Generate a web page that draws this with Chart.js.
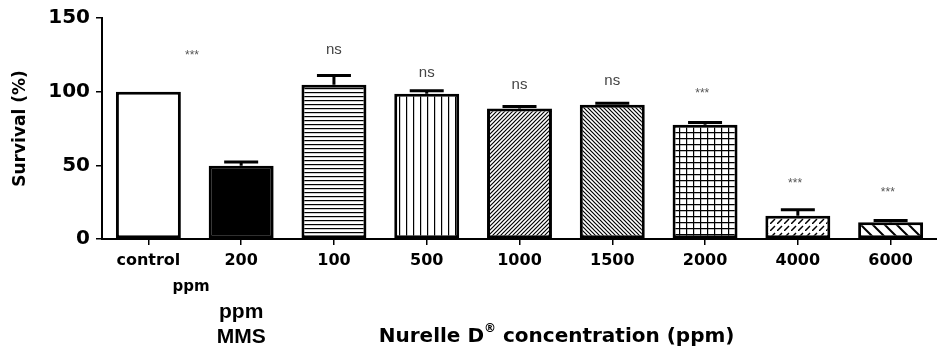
<!DOCTYPE html>
<html>
<head>
<meta charset="utf-8">
<script src="https://cdn.jsdelivr.net/npm/chart.js@4/dist/chart.umd.min.js"></script>
<style>
  html, body { margin: 0; padding: 0; background: #fff; }
  #wrap { width: 937px; height: 350px; }
</style>
</head>
<body>
<div id="wrap"><canvas id="myChart"></canvas></div>
<script>
// values
const categories = ['control', '200', '100', '500', '1000', '1500', '2000', '4000', '6000'];
const survival = [100, 49.7, 104.7, 98.6, 88.6, 91.1, 77.5, 15.8, 11.3];
const errorTop = [100, 52.2, 111, 100.6, 90, 92.2, 79, 19.9, 12.6];
const markText = ['***', '', 'ns', 'ns', 'ns', 'ns', '***', '***', '***'];
const markX = [0.47, null, 2, 3, 4, 5, 5.97, 6.97, 7.97];
const markY = [124.5, null, 128.4, 113, 104.6, 107, 98.5, 37.5, 31.6];
const yTicks = [0, 50, 100, 150];
const patternKinds = ['white', 'black', 'hlines', 'vlines', 'diagA', 'diagB', 'grid', 'dashdiag', 'widediag'];

function makePattern(kind) {
    const c = document.createElement('canvas');
    let w = 8, h = 8;
    if (kind == 'hlines') { w = 4; h = 4; }
    if (kind == 'vlines') { w = 7; h = 4; }
    if (kind == 'diagA' || kind == 'diagB') { w = 4; h = 4; }
    if (kind == 'grid') { w = 7; h = 6; }
    if (kind == 'dashdiag') { w = 7; h = 7; }
    if (kind == 'widediag') { w = 12; h = 12; }
    c.width = w; c.height = h;
    const g = c.getContext('2d');
    g.fillStyle = kind == 'black' ? '#000' : '#fff';
    g.fillRect(0, 0, w, h);
    g.strokeStyle = '#000';
    g.lineWidth = 1.2;
    g.beginPath();
    if (kind == 'hlines') { g.moveTo(0, 0.6); g.lineTo(w, 0.6); }
    if (kind == 'vlines') { g.moveTo(0.6, 0); g.lineTo(0.6, h); }
    if (kind == 'grid') {
        g.moveTo(0.6, 0); g.lineTo(0.6, h);
        g.moveTo(0, 0.6); g.lineTo(w, 0.6);
    }
    if (kind == 'diagA') {
        g.moveTo(-1, h + 1); g.lineTo(w + 1, -1);
        g.moveTo(-1, 1); g.lineTo(1, -1);
        g.moveTo(w - 1, h + 1); g.lineTo(w + 1, h - 1);
    }
    if (kind == 'diagB') {
        g.moveTo(-1, -1); g.lineTo(w + 1, h + 1);
        g.moveTo(w - 1, -1); g.lineTo(w + 1, 1);
        g.moveTo(-1, h - 1); g.lineTo(1, h + 1);
    }
    if (kind == 'dashdiag') {
        g.lineWidth = 1.5;
        g.moveTo(0, h); g.lineTo(w - 2, 2);
    }
    if (kind == 'widediag') {
        g.lineWidth = 2;
        g.moveTo(-1, -1); g.lineTo(w + 1, h + 1);
        g.moveTo(w - 2, -2); g.lineTo(w + 2, 2);
        g.moveTo(-2, h - 2); g.lineTo(2, h + 2);
    }
    g.stroke();
    return g.createPattern(c, 'repeat');
}

const fills = patternKinds.map(makePattern);

const extrasPlugin = {
    id: 'extras',
    afterDatasetsDraw(chart) {
        const ctx = chart.ctx;
        const xs = chart.scales.x, ys = chart.scales.y;
        const x0 = xs.getPixelForValue(0), x1 = xs.getPixelForValue(1);
        const step = x1 - x0;
        const px = i => x0 + i * step;
        // error bars (upper only)
        ctx.save();
        ctx.strokeStyle = '#000';
        ctx.lineWidth = 3;
        errorTop.forEach((e, i) => {
            if (e <= survival[i]) return;
            const x = px(i);
            const yb = ys.getPixelForValue(survival[i]);
            const yt = ys.getPixelForValue(e);
            ctx.beginPath();
            ctx.moveTo(x, yb); ctx.lineTo(x, yt);
            ctx.moveTo(x - 17, yt); ctx.lineTo(x + 17, yt);
            ctx.stroke();
        });
        // significance marks
        ctx.textAlign = 'center';
        ctx.textBaseline = 'middle';
        markText.forEach((t, i) => {
            if (!t) return;
            if (t == 'ns') { ctx.font = '15px "Liberation Sans"'; ctx.fillStyle = '#444'; }
            else { ctx.font = '12px "Liberation Sans"'; ctx.fillStyle = '#555'; }
            ctx.fillText(t, px(markX[i]), ys.getPixelForValue(markY[i]));
        });
        // extra axis texts
        ctx.fillStyle = '#000';
        ctx.font = 'bold 15px "DejaVu Sans"';
        ctx.fillText('ppm', px(0.46), 287);
        ctx.font = 'bold 21px "Liberation Sans"';
        ctx.fillText('ppm', px(1), 312);
        ctx.fillText('MMS', px(1), 337);
        // x title with superscript ®
        const a = 'Nurelle D', b = ' concentration (ppm)';
        ctx.font = 'bold 20px "DejaVu Sans"';
        const wa = ctx.measureText(a).width, wb = ctx.measureText(b).width;
        ctx.font = 'bold 12px "DejaVu Sans"';
        const wr = ctx.measureText('®').width;
        let left = px(4.4) - (wa + wr + wb) / 2;
        ctx.textAlign = 'left';
        ctx.font = 'bold 20px "DejaVu Sans"';
        ctx.fillText(a, left, 337);
        ctx.font = 'bold 12px "DejaVu Sans"';
        ctx.fillText('®', left + wa, 329);
        ctx.font = 'bold 20px "DejaVu Sans"';
        ctx.fillText(b, left + wa + wr, 337);
        ctx.restore();
    }
};

const ctx = document.getElementById('myChart');
const myChart = new Chart(ctx, {
    type: 'bar',
    data: {
        labels: categories,
        datasets: [{
            data: survival,
            backgroundColor: fills,
            borderColor: '#000',
            borderWidth: 3,
            borderSkipped: false,
            barPercentage: 0.7,
            categoryPercentage: 1
        }]
    },
    options: {
        responsive: true,
        maintainAspectRatio: false,
        animation: false,
        layout: { padding: { top: 18, right: -8, bottom: 0, left: 0 } },
        plugins: {
            legend: { display: false },
            tooltip: { enabled: false }
        },
        scales: {
            x: {
                afterFit: s => { s.height = 111; },
                grid: { offset: false, drawOnChartArea: false, color: '#000', lineWidth: 1.5, tickLength: 6 },
                border: { color: '#000', width: 2 },
                ticks: { color: '#000', padding: 6, font: { family: 'DejaVu Sans', size: 16, weight: 'bold' } }
            },
            y: {
                min: 0,
                max: 150,
                afterFit: s => { s.width = 102; },
                afterBuildTicks: s => { s.ticks = yTicks.map(v => ({ value: v })); },
                grid: { drawOnChartArea: false, color: '#000', lineWidth: 1.5, tickLength: 6 },
                border: { color: '#000', width: 2 },
                ticks: { color: '#000', padding: 6, font: { family: 'DejaVu Sans', size: 20, weight: 'bold' } },
                title: {
                    display: true,
                    text: 'Survival (%)',
                    color: '#000',
                    padding: { top: 10, bottom: 0 },
                    font: { family: 'DejaVu Sans', size: 17, weight: 'bold' }
                }
            }
        }
    },
    plugins: [extrasPlugin]
});
</script>
</body>
</html>
